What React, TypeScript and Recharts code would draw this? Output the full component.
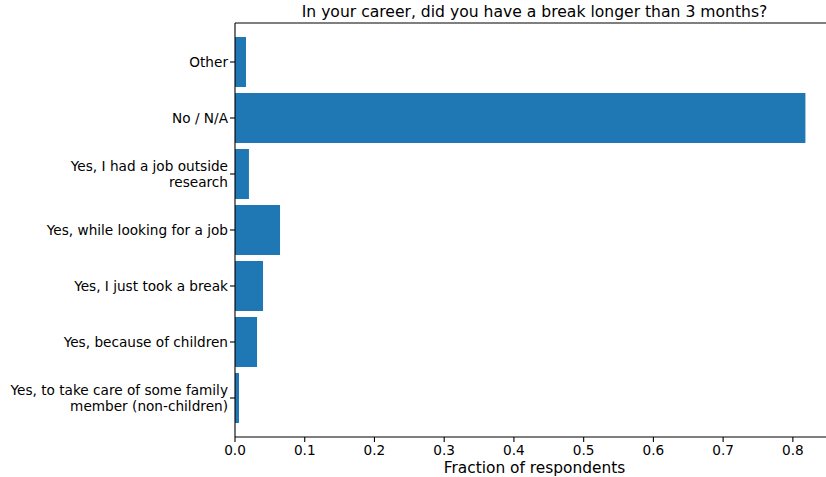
import React from "react";
import { Bar, BarChart, XAxis, YAxis } from "recharts";

// Answers, top to bottom as drawn
const ANSWERS = [
  "Other",
  "No / N/A",
  "Yes, I had a job outside\nresearch",
  "Yes, while looking for a job",
  "Yes, I just took a break",
  "Yes, because of children",
  "Yes, to take care of some family\nmember (non-children)",
];
const FRACTIONS = [0.0158, 0.818, 0.02, 0.0646, 0.0402, 0.0316, 0.0057];
const X_TICKS = [0, 0.1, 0.2, 0.3, 0.4, 0.5, 0.6, 0.7, 0.8];

const TITLE = "In your career, did you have a break longer than 3 months?";
const X_LABEL = "Fraction of respondents";

const FONT = "'DejaVu Sans', sans-serif";
const BLUE = "#1f77b4";
const INK = "#000";
const TICK_SIZE = 13.65;

const data = ANSWERS.map((name, i) => ({ name, value: FRACTIONS[i] }));

// Category labels may wrap onto two lines, centred on the tick
function AnswerTick(props: any) {
  const { x, y, payload } = props;
  const lines = String(payload.value).split("\n");
  const lh = 15.3;
  return (
    <text
      x={x}
      y={y}
      textAnchor="end"
      fontFamily={FONT}
      fontSize={TICK_SIZE}
      fill={INK}
    >
      {lines.map((line, i) => (
        <tspan key={i} x={x} y={y + (i - (lines.length - 1) / 2) * lh} dy="0.36em">
          {line}
        </tspan>
      ))}
    </text>
  );
}

export default function App() {
  return (
    <div
      style={{
        position: "absolute",
        left: 0,
        top: 0,
        width: 826,
        height: 477,
        overflow: "hidden",
        background: "#fff",
      }}
    >
      <div
        style={{
          position: "absolute",
          left: 235,
          top: 2,
          width: 599,
          textAlign: "center",
          fontFamily: FONT,
          fontSize: 15.6,
          lineHeight: "20px",
          color: INK,
          whiteSpace: "nowrap",
        }}
      >
        {TITLE}
      </div>
      <BarChart
        width={834}
        height={477}
        data={data}
        layout="vertical"
        margin={{ top: 22, right: 0, bottom: 0, left: 0 }}
        barSize={50}
      >
        <XAxis
          type="number"
          domain={[0, 0.859]}
          ticks={X_TICKS}
          allowDataOverflow
          tickFormatter={(v: number) => v.toFixed(1)}
          height={40}
          tickSize={5}
          tickMargin={3}
          tick={{ fontFamily: FONT, fontSize: TICK_SIZE, fill: INK }}
          axisLine={{ stroke: INK, strokeWidth: 1.1 }}
          tickLine={{ stroke: INK, strokeWidth: 1.1 }}
          label={{
            value: X_LABEL,
            position: "insideBottom",
            offset: 4,
            fontFamily: FONT,
            fontSize: 15.4,
            fill: INK,
          }}
        />
        <XAxis
          xAxisId="top"
          orientation="top"
          type="number"
          domain={[0, 0.859]}
          height={1}
          tick={false}
          tickLine={false}
          axisLine={{ stroke: INK, strokeWidth: 1.1 }}
        />
        <YAxis
          type="category"
          dataKey="name"
          width={235}
          interval={0}
          padding={{ top: 11, bottom: 11 }}
          tickSize={5}
          tickMargin={2}
          tick={<AnswerTick />}
          axisLine={{ stroke: INK, strokeWidth: 1.1 }}
          tickLine={{ stroke: INK, strokeWidth: 1.1 }}
        />
        <Bar dataKey="value" fill={BLUE} isAnimationActive={false} />
      </BarChart>
    </div>
  );
}
